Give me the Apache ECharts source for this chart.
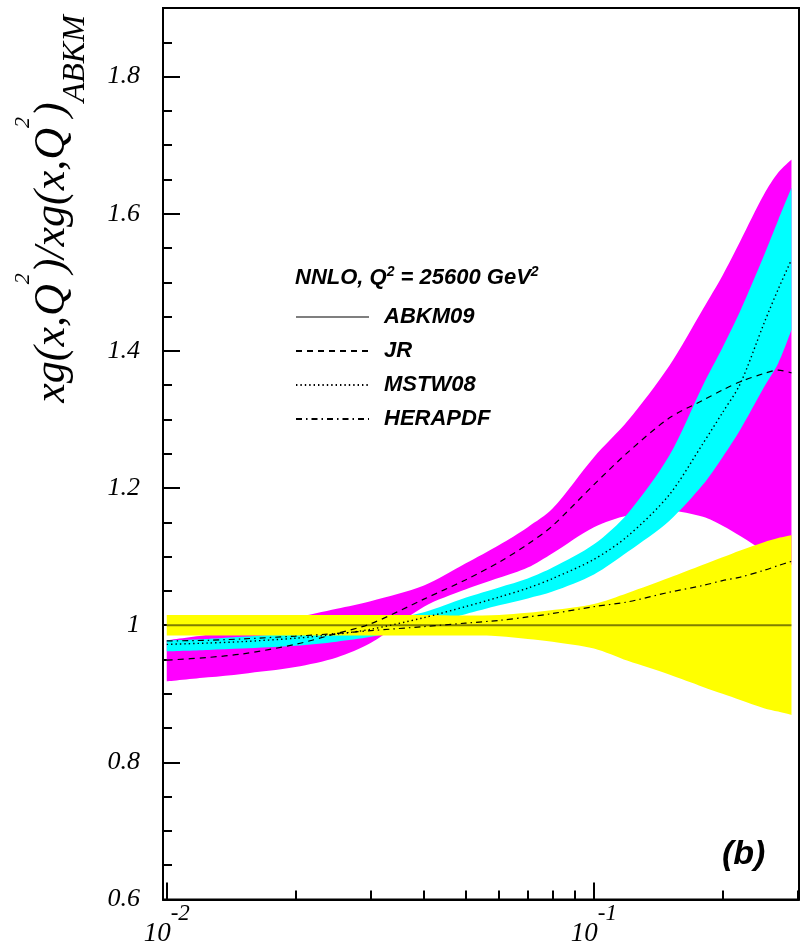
<!DOCTYPE html>
<html>
<head>
<meta charset="utf-8">
<script src="https://cdn.jsdelivr.net/npm/echarts@6/dist/echarts.min.js"></script>
<style>
  html, body { margin: 0; padding: 0; background: #fff; }
  #chart { width: 806px; height: 947px; }
</style>
</head>
<body>
<div id="chart"></div>
<script>
// Gluon ratio xg(x,Q^2)/xg(x,Q^2)_ABKM at Q^2 = 25600 GeV^2 (NNLO)
const xValues = [0.01, 0.0125, 0.015, 0.02, 0.025, 0.03, 0.04, 0.05, 0.06, 0.07,
                 0.08, 0.1, 0.12, 0.15, 0.18, 0.2, 0.22, 0.25, 0.27, 0.29];

// ABKM09 uncertainty band and central value
const abkmLow  = [0.985, 0.985, 0.985, 0.985, 0.985, 0.985, 0.985, 0.985, 0.984, 0.980,
                  0.976, 0.966, 0.948, 0.928, 0.910, 0.900, 0.891, 0.879, 0.874, 0.869];
const abkmHigh = [1.015, 1.015, 1.015, 1.015, 1.015, 1.015, 1.015, 1.014, 1.015, 1.018,
                  1.022, 1.031, 1.047, 1.069, 1.088, 1.099, 1.109, 1.121, 1.127, 1.131];
const abkmCentral = [1, 1, 1, 1, 1, 1, 1, 1, 1, 1, 1, 1, 1, 1, 1, 1, 1, 1, 1, 1];

// JR band and central value
const jrLow  = [0.918, 0.924, 0.929, 0.939, 0.953, 0.974, 1.027, 1.052, 1.069, 1.084,
                1.105, 1.143, 1.160, 1.167, 1.158, 1.145, 1.130, 1.108, 1.096, 1.088];
const jrHigh = [0.978, 0.986, 0.994, 1.011, 1.024, 1.035, 1.058, 1.090, 1.117, 1.143,
                1.170, 1.245, 1.298, 1.378, 1.461, 1.510, 1.560, 1.628, 1.660, 1.679];
const jrCentral = [0.949, 0.953, 0.958, 0.972, 0.988, 1.002, 1.038, 1.066, 1.092, 1.118,
                   1.145, 1.205, 1.252, 1.302, 1.328, 1.343, 1.355, 1.367, 1.372, 1.368];

// MSTW08 band and central value
const mstwLow  = [0.962, 0.964, 0.966, 0.970, 0.976, 0.983, 1.000, 1.016, 1.029, 1.039,
                  1.049, 1.074, 1.107, 1.152, 1.205, 1.245, 1.285, 1.347, 1.382, 1.431];
const mstwHigh = [0.978, 0.980, 0.983, 0.989, 0.996, 1.003, 1.019, 1.040, 1.055, 1.068,
                  1.084, 1.118, 1.163, 1.247, 1.350, 1.405, 1.458, 1.539, 1.591, 1.638];
const mstwCentral = [0.972, 0.974, 0.976, 0.981, 0.987, 0.994, 1.011, 1.027, 1.041, 1.054,
                     1.068, 1.096, 1.130, 1.190, 1.265, 1.310, 1.352, 1.440, 1.490, 1.533];

// HERAPDF central value
const heraCentral = [0.977, 0.978, 0.980, 0.984, 0.988, 0.992, 0.998, 1.003, 1.007, 1.012,
                     1.017, 1.027, 1.034, 1.048, 1.058, 1.065, 1.070, 1.080, 1.087, 1.093];

// Axis ticks
const yMajorTicks = [0.6, 0.8, 1, 1.2, 1.4, 1.6, 1.8];
const yMinorTicks = [0.65, 0.7, 0.75, 0.85, 0.9, 0.95, 1.05, 1.1, 1.15, 1.25, 1.3, 1.35,
                     1.45, 1.5, 1.55, 1.65, 1.7, 1.75, 1.85];
const xMajorTicks = [0.01, 0.1];
const xMinorTicks = [0.02, 0.03, 0.04, 0.05, 0.06, 0.07, 0.08, 0.09, 0.2, 0.3];

const X_MIN = 0.0098, X_MAX = 0.302, Y_MIN = 0.6, Y_MAX = 1.9;

const SERIF = "'Liberation Serif', 'Times New Roman', serif";
const SANS = "'Liberation Sans', Arial, sans-serif";

const pairs = ys => xValues.map((x, i) => [x, ys[i]]);

// Filled band: an invisible lower edge plus a stacked width that carries the fill.
// Items are stored as [y, x] so that the stack is computed on the y values.
function band(key, low, high, color) {
  const common = {
    type: 'line', stack: key, symbol: 'none', smooth: 0.3, silent: true,
    encode: { x: 1, y: 0 },
    lineStyle: { width: 0, opacity: 0 }
  };
  return [
    Object.assign({ name: key + '-low', data: xValues.map((x, i) => [low[i], x]) }, common),
    Object.assign({
      name: key + '-band',
      data: xValues.map((x, i) => [high[i] - low[i], x]),
      areaStyle: { color: color, opacity: 1 }
    }, common)
  ];
}

function curve(name, ys, lineStyle) {
  return {
    name: name, type: 'line', data: pairs(ys), symbol: 'none', smooth: 0.3,
    silent: true, itemStyle: { color: 'rgba(0,0,0,0)' },
    lineStyle: Object.assign({ color: '#000', width: 1.2 }, lineStyle)
  };
}

const series = [].concat(
  band('jr', jrLow, jrHigh, '#ff00ff'),
  band('mstw', mstwLow, mstwHigh, '#00ffff'),
  band('abkm', abkmLow, abkmHigh, '#ffff00'),
  [
    curve('ABKM09', abkmCentral, { width: 2, opacity: 0.5, type: 'solid' }),
    curve('JR', jrCentral, { type: [6, 5] }),
    curve('MSTW08', mstwCentral, { width: 1.4, type: [1.4, 3] }),
    curve('HERAPDF', heraCentral, { type: [6, 4, 1.5, 4] })
  ]
);

const chart = echarts.init(document.getElementById('chart'), null, { renderer: 'canvas' });

chart.setOption({
  animation: false,
  backgroundColor: '#fff',
  grid: {
    left: 163, right: 7, top: 8, bottom: 46,
    show: true, borderColor: '#000', borderWidth: 2, backgroundColor: 'transparent'
  },
  title: [
    {
      left: 295, top: 265, padding: 0,
      text: '{a|NNLO, Q}{s|2}{a| = 25600 GeV}{s|2}',
      textStyle: {
        rich: {
          a: { fontFamily: SANS, fontStyle: 'italic', fontWeight: 'bold', fontSize: 22,
               lineHeight: 26, color: '#000' },
          s: { fontFamily: SANS, fontStyle: 'italic', fontWeight: 'bold', fontSize: 14,
               lineHeight: 14, verticalAlign: 'top', color: '#000' }
        }
      }
    },
    {
      left: 722, top: 838, padding: 0,
      text: '(b)',
      textStyle: { fontFamily: SANS, fontStyle: 'italic', fontWeight: 'bold', fontSize: 34, color: '#000' }
    }
  ],
  legend: {
    orient: 'vertical', left: 295, top: 300, padding: 0,
    itemWidth: 73, itemHeight: 14, itemGap: 0,
    data: ['ABKM09', 'JR', 'MSTW08', 'HERAPDF'],
    selectedMode: false,
    itemStyle: { opacity: 0 },
    textStyle: {
      fontFamily: SANS, fontStyle: 'italic', fontWeight: 'bold', fontSize: 22,
      color: '#000', lineHeight: 20, padding: [0, 0, 14, 10]
    }
  },
  xAxis: [
    {
      type: 'log', logBase: 10, min: X_MIN, max: X_MAX, position: 'bottom',
      axisLine: { show: true, lineStyle: { color: '#000', width: 2 } },
      axisTick: { show: true, inside: true, length: 17, customValues: xMajorTicks,
                  lineStyle: { color: '#000', width: 2 } },
      minorTick: { show: false },
      splitLine: { show: false },
      axisLabel: {
        customValues: xMajorTicks, margin: 3,
        formatter: v => '{b|10}{s|' + Math.round(Math.log10(v)) + '}',
        rich: {
          b: { fontFamily: SERIF, fontStyle: 'italic', fontSize: 27, color: '#000',
               lineHeight: 62 },
          s: { fontFamily: SERIF, fontStyle: 'italic', fontSize: 23, color: '#000',
               lineHeight: 18, verticalAlign: 'top' }
        }
      }
    },
    {
      type: 'log', logBase: 10, min: X_MIN, max: X_MAX, position: 'bottom',
      axisLine: { show: false },
      axisTick: { show: true, inside: true, length: 9, customValues: xMinorTicks,
                  lineStyle: { color: '#000', width: 2 } },
      axisLabel: { show: false },
      splitLine: { show: false }
    }
  ],
  yAxis: [
    {
      type: 'value', min: Y_MIN, max: Y_MAX, position: 'left',
      axisLine: { show: true, lineStyle: { color: '#000', width: 2 } },
      axisTick: { show: true, inside: true, length: 17, customValues: yMajorTicks,
                  lineStyle: { color: '#000', width: 2 } },
      splitLine: { show: false },
      axisLabel: {
        customValues: yMajorTicks, margin: 23,
        fontFamily: SERIF, fontStyle: 'italic', fontSize: 26, color: '#000'
      }
    },
    {
      type: 'value', min: Y_MIN, max: Y_MAX, position: 'left',
      axisLine: { show: false },
      axisTick: { show: true, inside: true, length: 9, customValues: yMinorTicks,
                  lineStyle: { color: '#000', width: 2 } },
      axisLabel: { show: false },
      splitLine: { show: false }
    }
  ],
  graphic: [
    {
      type: 'text', x: 52, y: 209, rotation: Math.PI / 2,
      style: {
        text: '{m|xg(x,Q}{p|2}{m|)/xg(x,Q}{p|2}{m|)}{d|ABKM}',
        align: 'center', verticalAlign: 'middle',
        rich: {
          m: { fontFamily: SERIF, fontStyle: 'italic', fontSize: 44, lineHeight: 80, fill: '#000' },
          p: { fontFamily: SERIF, fontStyle: 'italic', fontSize: 22, lineHeight: 18,
               verticalAlign: 'top', fill: '#000' },
          d: { fontFamily: SERIF, fontStyle: 'italic', fontSize: 32, lineHeight: 49,
               verticalAlign: 'bottom', fill: '#000' }
        }
      }
    }
  ],
  series: series
});
</script>
</body>
</html>
